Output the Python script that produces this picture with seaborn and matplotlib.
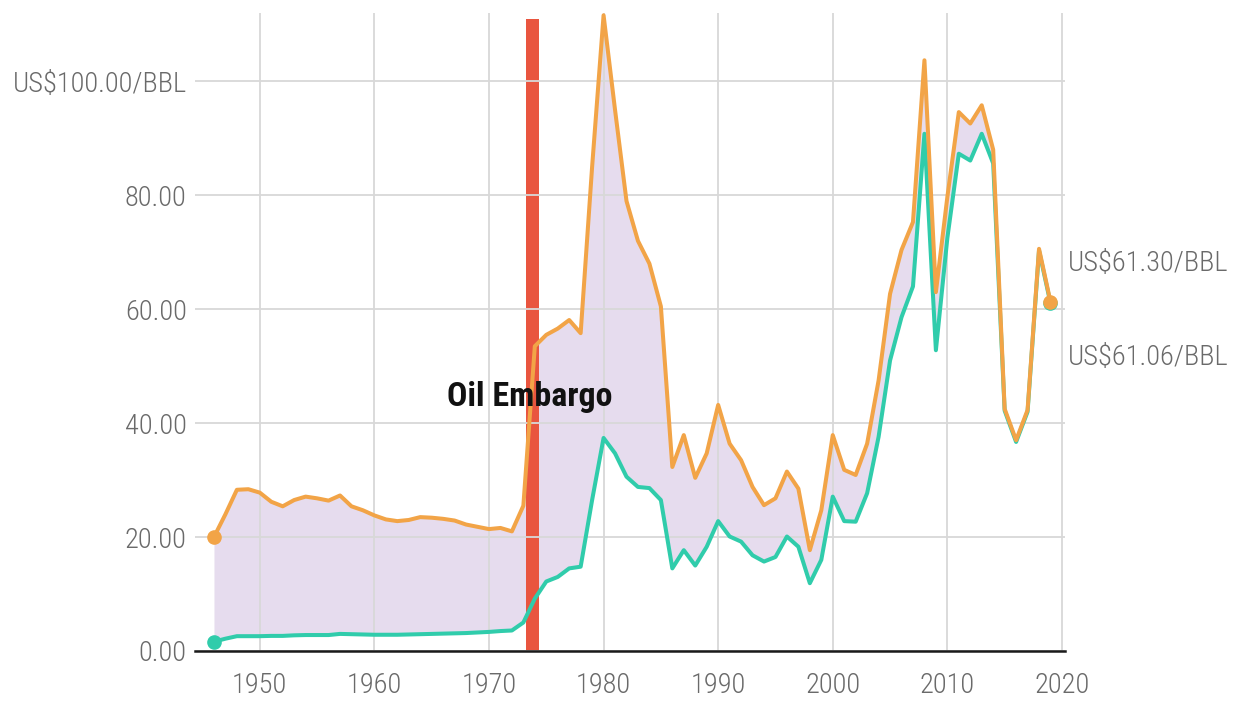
import numpy as np
import pandas as pd
import matplotlib
matplotlib.use("Agg")
import matplotlib.pyplot as plt
import matplotlib.transforms as mtransforms
import seaborn as sns

# Annual crude oil price, US$ per barrel
years = list(range(1946, 2020))

inflation_adjusted = [
    20.0, 24.0, 28.3, 28.4, 27.8, 26.2, 25.4, 26.5, 27.1, 26.8,   # 1946-1955
    26.4, 27.3, 25.4, 24.7, 23.8, 23.1, 22.8, 23.0, 23.5, 23.4,   # 1956-1965
    23.2, 22.9, 22.2, 21.8, 21.4, 21.6, 21.0, 25.5, 53.5, 55.5,   # 1966-1975
    56.6, 58.1, 55.8, 85.0, 111.6, 95.0, 79.0, 72.0, 68.0, 60.5,  # 1976-1985
    32.3, 37.9, 30.4, 34.7, 43.2, 36.4, 33.5, 28.8, 25.6, 26.8,   # 1986-1995
    31.5, 28.5, 17.7, 24.7, 37.9, 31.8, 30.9, 36.4, 47.5, 62.7,   # 1996-2005
    70.4, 75.3, 103.7, 63.0, 79.7, 94.6, 92.6, 95.8, 88.0, 42.5,  # 2006-2015
    37.0, 42.3, 70.6, 61.30,                                      # 2016-2019
]

nominal = [
    1.63, 2.16, 2.60, 2.60, 2.60, 2.65, 2.65, 2.75, 2.80, 2.80,   # 1946-1955
    2.80, 3.00, 2.95, 2.90, 2.85, 2.85, 2.85, 2.90, 2.95, 3.00,   # 1956-1965
    3.05, 3.10, 3.15, 3.25, 3.35, 3.50, 3.60, 5.00, 9.20, 12.2,   # 1966-1975
    13.0, 14.5, 14.8, 26.5, 37.4, 34.7, 30.6, 28.8, 28.6, 26.5,   # 1976-1985
    14.5, 17.7, 15.0, 18.3, 22.8, 20.1, 19.2, 16.8, 15.7, 16.5,   # 1986-1995
    20.1, 18.3, 11.9, 16.0, 27.1, 22.8, 22.7, 27.7, 37.6, 51.0,   # 1996-2005
    58.6, 64.0, 90.8, 52.8, 72.5, 87.3, 86.1, 90.8, 85.6, 42.2,   # 2006-2015
    36.7, 42.0, 70.3, 61.06,                                      # 2016-2019
]

embargo_label = "Oil Embargo"
embargo_year = 1973.8
embargo_height = 111.0

y_ticks = [0, 20, 40, 60, 80, 100]
y_tick_labels = ["0.00", "20.00", "40.00", "60.00", "80.00", "US$100.00/BBL"]
x_ticks = [1950, 1960, 1970, 1980, 1990, 2000, 2010, 2020]

df = pd.DataFrame({"year": years, "adjusted": inflation_adjusted, "nominal": nominal})

ORANGE = "#f2a447"
TEAL = "#30ccab"
FILL = "#e6dcee"
EMBARGO = "#e9553f"
GREY_TEXT = "#6a6a6a"
LABEL_SIZE = 20.5

sns.set_theme(style="whitegrid")
plt.rcParams["font.family"] = ["Roboto Condensed", "DejaVu Sans"]
plt.rcParams["font.stretch"] = "condensed"

fig = plt.figure(figsize=(12.4, 7.11), dpi=100)
fig.patch.set_facecolor("white")
ax = fig.add_axes([0.1573, 0.0844, 0.7016, 0.8973])
ax.set_facecolor("white")

# shaded gap between the two series
ax.fill_between(df["year"], df["nominal"], df["adjusted"], color=FILL, linewidth=0, zorder=1)

# embargo marker bar
ax.bar([embargo_year], [embargo_height], width=1.2, color=EMBARGO, linewidth=0, zorder=1.1)

sns.lineplot(data=df, x="year", y="nominal", ax=ax, color=TEAL, linewidth=2.9,
             zorder=2, clip_on=False)
sns.lineplot(data=df, x="year", y="adjusted", ax=ax, color=ORANGE, linewidth=2.9,
             zorder=2.1, clip_on=False)

# end-point dots
ax.plot([years[0], years[-1]], [nominal[0], nominal[-1]], "o", color=TEAL,
        markersize=9.5, zorder=2.2, clip_on=False)
ax.plot([years[0], years[-1]], [inflation_adjusted[0], inflation_adjusted[-1]], "o",
        color=ORANGE, markersize=9.5, zorder=2.3, clip_on=False)

ax.text(embargo_year - 0.2, 44.6, embargo_label, ha="center", va="center",
        fontsize=24.5, fontweight="bold", color="#111111", zorder=3)

# end-value labels to the right of the plot
trans = mtransforms.blended_transform_factory(ax.transAxes, ax.transData)
ax.text(1.003, 68.0, f"US${inflation_adjusted[-1]:.2f}/BBL", transform=trans,
        ha="left", va="center", fontsize=LABEL_SIZE, fontweight="light", color=GREY_TEXT)
ax.text(1.003, 51.6, f"US${nominal[-1]:.2f}/BBL", transform=trans,
        ha="left", va="center", fontsize=LABEL_SIZE, fontweight="light", color=GREY_TEXT)

ax.set_xlim(1944.35, 2020.27)
ax.set_ylim(0, 112)
ax.set_xticks(x_ticks)
ax.set_xticklabels([str(t) for t in x_ticks], fontweight="light")
ax.set_yticks(y_ticks)
ax.set_yticklabels(y_tick_labels, fontweight="light")
ax.set_xlabel("")
ax.set_ylabel("")

ax.set_axisbelow("line")
ax.grid(True, color="#d8d8d8", linewidth=1.3)
ax.tick_params(axis="x", length=0, pad=15, labelsize=LABEL_SIZE, labelcolor=GREY_TEXT)
ax.tick_params(axis="y", length=0, pad=6, labelsize=LABEL_SIZE, labelcolor=GREY_TEXT)

for side in ["top", "right", "left"]:
    ax.spines[side].set_visible(False)
ax.spines["bottom"].set_color("#1a1a1a")
ax.spines["bottom"].set_linewidth(1.8)
ax.spines["bottom"].set_zorder(2.5)

fig.savefig("out.png", dpi=100, facecolor="white")
